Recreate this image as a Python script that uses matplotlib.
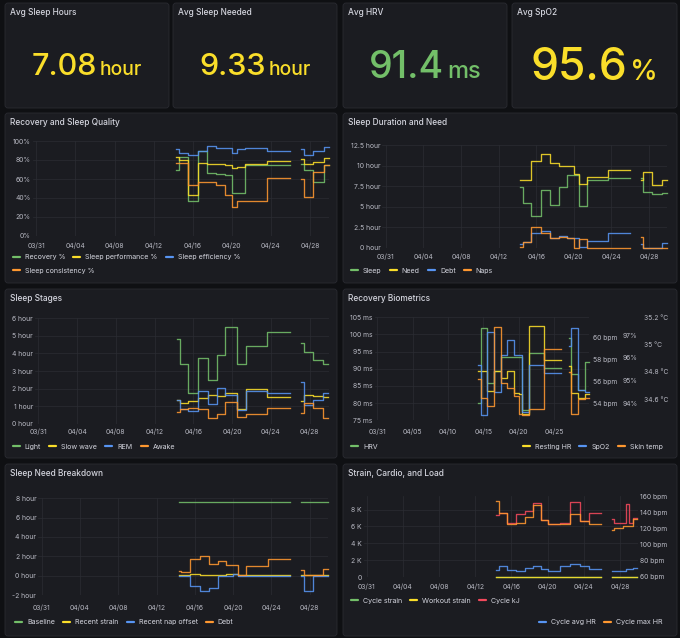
import matplotlib
matplotlib.use("Agg")
import matplotlib.pyplot as plt
import matplotlib.dates as mdates
from matplotlib.patches import FancyBboxPatch
from matplotlib.lines import Line2D
from matplotlib.legend import Legend
from matplotlib.ticker import FuncFormatter
import numpy as np
import pandas as pd

nan = np.nan

# ---- data ---------------------------------------------------------------
# one row per record; a NaN row closes a run (gap in the data)
times = pd.to_datetime([
    "2025-04-14 07:12", "2025-04-14 14:24", "2025-04-15 12:00", "2025-04-16 12:00",
    "2025-04-17 12:00", "2025-04-18 09:36", "2025-04-19 07:12", "2025-04-20 00:00",
    "2025-04-20 12:00", "2025-04-21 09:36", "2025-04-22 12:00", "2025-04-23 14:24",
    "2025-04-24 14:24", "2025-04-25 22:48", "2025-04-27 02:24", "2025-04-27 09:36",
    "2025-04-28 07:12", "2025-04-28 16:48", "2025-04-29 00:00", "2025-04-29 09:36",
    "2025-04-29 21:36",
])

stat_titles = ["Avg Sleep Hours", "Avg Sleep Needed", "Avg HRV", "Avg SpO2"]
stat_values = [7.08, 9.33, 91.4, 95.6]
stat_units = ["hour", "hour", "ms", "%"]

# Recovery and Sleep Quality (%)
recovery = [69, 83, 37, 90, 66, 65, 64, 45, 45, 75, 75, 75, 75, nan, 76, 69, 57, 57, 57, 75, nan]
sleep_perf = [83, 80, 43, 77, 76, 76, 75, 72, 73, 76, 76, 79, 79, nan, 81, 76, 78, 78, 78, 82, nan]
sleep_eff = [92, 87, 85, 90, 95, 93, 93, 87, 92, 93, 93, 90, 90, nan, 92, 85, 89, 89, 89, 94, nan]
sleep_cons = [77, 77, 54, 57, 57, 54, 43, 30, 37, 37, 37, 61, 61, nan, 60, 41, 67, 67, 67, 75, nan]

# Sleep Duration and Need (hours)
sleep_hours = [7.4, 5.4, 3.85, 7.0, 5.2, 7.4, 8.9, 8.9, 5.1, 8.25, 8.25, 8.45, 8.45, nan, 8.45, 6.8, 6.5, 6.5, 6.5, 6.7, nan]
need_hours = [8.2, 8.2, 10.6, 11.4, 10.3, 10.0, 10.0, 9.0, 7.8, 8.6, 8.6, 9.5, 9.5, nan, 8.3, 9.2, 7.6, 7.6, 7.6, 8.3, nan]
debt_hours = [0.45, 0.7, 1.75, 2.05, 1.15, 1.45, 1.15, 1.15, 0.05, 0.8, 0.8, 1.75, 1.75, nan, 0.5, 0, 0, 0, 0, 0.6, nan]
nap_hours = [0.1, 0.7, 2.5, 1.75, 1.15, 1.35, 1.15, 0, 1.0, 0, 0, 0, 0, nan, 1.35, 0, 0, 0, 0, 0, nan]

# Sleep Stages (hours)
light = [4.8, 3.4, 1.75, 3.75, 2.5, 3.9, 5.5, 5.5, 3.4, 4.45, 4.45, 5.2, 5.2, nan, 4.6, 4.1, 3.6, 3.6, 3.6, 3.4, nan]
slow_wave = [1.35, 1.15, 1.3, 1.45, 1.65, 1.55, 1.75, 1.75, 0.85, 1.95, 1.95, 1.5, 1.5, nan, 1.3, 1.65, 1.55, 1.55, 1.55, 1.5, nan]
rem = [1.35, 0.85, 0.75, 1.85, 1.1, 2.05, 1.65, 1.65, 0.8, 1.85, 1.85, 1.75, 1.75, nan, 2.4, 1.05, 1.35, 1.35, 1.35, 1.75, nan]
awake = [0.65, 0.85, 0.9, 0.85, 0.3, 0.55, 1.25, 1.25, 0.4, 0.55, 0.55, 0.9, 0.9, nan, 0.6, 1.2, 0.9, 0.9, 0.9, 0.35, nan]

# Recovery Biometrics
hrv = [80, 101.8, 86, 89.5, 93.5, 93.5, 93.5, 93.5, 78, 94.7, 94.7, 90.1, 90.1, nan, 99, 88.5, 83.8, 83.8, 83.8, 92.1, nan]
resting_hr = [57.0, 57.0, 55.2, 57.0, 56.3, 57.0, 55.0, 54.9, 53.1, 61.05, 61.05, 58.0, 58.0, nan, 57.4, 55.0, 54.5, 54.5, 54.5, 54.9, nan]
spo2 = [95.7, 93.5, 97.15, 94.5, 96.1, 96.8, 96.1, 96.1, 93.6, 95.7, 95.7, 95.35, 95.35, nan, 96.5, 97.3, 94.6, 94.6, 94.6, 94.5, nan]
skin_temp = [34.75, 34.61, 34.55, 35.13, 34.72, 34.68, 34.62, 34.49, 34.48, 34.53, 34.53, 34.97, 34.97, nan, 34.8, 34.49, 34.6, 34.6, 34.6, 34.61, nan]

# Sleep Need Breakdown (hours)
need_baseline = [7.65, 7.65, 7.65, 7.65, 7.65, 7.65, 7.65, 7.65, 7.65, 7.65, 7.65, 7.65, 7.65, nan, 7.65, 7.65, 7.65, 7.65, 7.65, 7.65, nan]
need_strain = [0.1, 0.1, 0.2, 0.05, 0.05, 0.1, 0.15, 0.2, 0.05, 0.1, 0.1, 0.1, 0.1, nan, 0.05, 0.05, 0.1, 0.1, 0.1, 0.1, nan]
need_nap_offset = [0, 0, -1.05, -1.55, -1.3, 0, 0, 0.2, 0, 0, 0, 0, 0, nan, 0, -1.55, 0, 0, 0, 0, nan]
need_debt = [0.5, 0.4, 1.7, 2.05, 1.2, 1.55, 1.15, 1.15, 0.1, 0.95, 0.95, 1.7, 1.7, nan, 0.6, 0.1, 0.1, 0.1, 0.1, 0.7, nan]

# Strain, Cardio, and Load
cycle_strain = [12.1, 12.1, 9.8, 11.5, 13.2, 14.6, 10.3, 8.9, 8.9, 9.7, 15.2, 11.0, 12.4, nan, 9.5, 8.7, 8.7, 14.1, 9.2, 10.8, nan]
workout_strain = [0, 0, 0, 0, 0, 0, 0, 0, 0, 0, 0, 0, 0, nan, 0, 0, 0, 0, 0, 0, nan]
cycle_kj = [7300, 7550, 6400, 7450, 7850, 8800, 6750, 6250, 6250, 6450, 8900, 6600, 7600, nan, 6850, 6350, 6350, 8700, 6450, 7050, nan]
cycle_avg_hr = [69, 73, 69, 67, 71, 73, 70, 67, 67, 73, 75.5, 73, 70, nan, 68, 68, 67, 69.5, 69.5, 71.5, nan]
cycle_max_hr = [154, 139, 126, 127, 134, 149, 130, 126, 126, 126, 138, 129, 125, nan, 118.5, 120, 122.5, 122.5, 122.5, 132, nan]

# ---- style --------------------------------------------------------------
W, H = 680, 638
BG = "#0f1013"
PANEL = "#1b1c21"
BORDER = "#2a2b31"
TEXT = "#d4d5de"
TICK = "#b8b9c3"
GRID = "#2b2d33"
GREEN, YELLOW, BLUE, ORANGE, RED = "#73BF69", "#FADE2A", "#5794F2", "#FF9830", "#F2495C"

plt.rcParams["font.family"] = ["Inter", "DejaVu Sans"]

t_start = pd.Timestamp("2025-03-31")
x_lo = t_start - pd.Timedelta(hours=8.4)
x_hi = t_start + pd.Timedelta(days=29.95)

fig = plt.figure(figsize=(W / 100, H / 100), dpi=100, facecolor=BG)
bg = fig.add_axes([0, 0, 1, 1], zorder=-1)
bg.set_xlim(0, W)
bg.set_ylim(H, 0)
bg.axis("off")


def panel(x0, y0, x1, y1, title):
    bg.add_patch(FancyBboxPatch((x0, y0), x1 - x0, y1 - y0,
                                boxstyle="round,pad=0,rounding_size=3",
                                fc=PANEL, ec=BORDER, lw=0.6))
    bg.text(x0 + 5, y0 + 9.6, title, color=TEXT, fontsize=6, fontweight="medium",
            ha="left", va="center")


def px_axes(left, top, right, bottom):
    return fig.add_axes([left / W, 1 - bottom / H, (right - left) / W, (bottom - top) / H])


def style(ax, ylim, yticks, yfmt, step=4, xpad=4.0):
    ax.set_facecolor("none")
    for s in ax.spines.values():
        s.set_visible(False)
    ax.set_xlim(mdates.date2num(x_lo), mdates.date2num(x_hi))
    ax.set_xticks([mdates.date2num(t_start + pd.Timedelta(days=k)) for k in range(0, 29, step)])
    ax.xaxis.set_major_formatter(mdates.DateFormatter("%m/%d"))
    ax.set_ylim(*ylim)
    ax.set_yticks(yticks)
    ax.yaxis.set_major_formatter(FuncFormatter(yfmt))
    ax.tick_params(length=0, labelsize=4.9, labelcolor=TICK, pad=1.5)
    ax.tick_params(axis="x", pad=xpad)
    ax.grid(True, color=GRID, lw=0.5)
    ax.set_axisbelow(True)


def right_axis(ax, ylim, yticks, yfmt, pad):
    tw = ax.twinx()
    for s in tw.spines.values():
        s.set_visible(False)
    tw.set_ylim(*ylim)
    tw.set_yticks(yticks)
    tw.yaxis.set_major_formatter(FuncFormatter(yfmt))
    tw.tick_params(length=0, labelsize=4.9, labelcolor=TICK, pad=pad)
    return tw


def lines(ax, series):
    for vals, col in series:
        ax.plot(times, vals, drawstyle="steps-post", color=col, lw=0.95, alpha=0.88,
                clip_on=False)


def legend_row(items, x, y, align="left"):
    handles = [Line2D([], [], color=c, lw=1.6, solid_capstyle="round") for _, c in items]
    lg = Legend(bg, handles, [n for n, _ in items],
                loc="center left" if align == "left" else "center right",
                bbox_to_anchor=(x, y), bbox_transform=bg.transData,
                ncol=len(items), frameon=False, fontsize=5.1, labelcolor=TEXT,
                handlelength=1.0, handletextpad=0.7, columnspacing=1.15,
                borderpad=0, borderaxespad=0)
    bg.add_artist(lg)


# ---- stat row -------------------------------------------------------------
stat_x = [(5, 169), (173, 337), (343, 507), (512, 677)]
stat_colors = [YELLOW, YELLOW, GREEN, YELLOW]
stat_sizes = [22, 22, 27, 32]
renderer = fig.canvas.get_renderer()
for (x0, x1), ttl, val, unit, col, fs in zip(stat_x, stat_titles, stat_values,
                                              stat_units, stat_colors, stat_sizes):
    bg.add_patch(FancyBboxPatch((x0, 3), x1 - x0, 105, boxstyle="round,pad=0,rounding_size=3",
                                fc=PANEL, ec=BORDER, lw=0.6))
    bg.text(x0 + 5, 12.7, ttl, color=TEXT, fontsize=6, fontweight="medium", ha="left", va="center")
    tv = bg.text(0, 0, f"{val:g}", fontsize=fs, color=col, fontweight="medium", va="baseline")
    tu = bg.text(0, 0, unit, fontsize=fs * 0.63, color=col, fontweight="medium", va="baseline")
    wv = tv.get_window_extent(renderer).width
    wu = tu.get_window_extent(renderer).width
    gap = 3
    xs = (x0 + x1) / 2 - (wv + gap + wu) / 2
    base = 64 + 0.364 * fs * 100 / 72
    tv.set_position((xs, base))
    tu.set_position((xs + wv + gap, base))

# ---- Recovery and Sleep Quality ------------------------------------------
panel(5, 113, 337, 283, "Recovery and Sleep Quality")
ax1 = px_axes(33, 141, 329, 236)
lines(ax1, [(recovery, GREEN), (sleep_perf, YELLOW), (sleep_eff, BLUE), (sleep_cons, ORANGE)])
style(ax1, (0, 100), range(0, 101, 20), lambda v, p: f"{v:g}%", xpad=4.7)
legend_row([("Recovery %", GREEN), ("Sleep performance %", YELLOW), ("Sleep efficiency %", BLUE)], 12.7, 257)
legend_row([("Sleep consistency %", ORANGE)], 12.7, 270.7)

# ---- Sleep Duration and Need ---------------------------------------------
panel(343, 113, 677, 283, "Sleep Duration and Need")
ax2 = px_axes(382.4, 145, 667.4, 247.7)
lines(ax2, [(sleep_hours, GREEN), (need_hours, YELLOW), (debt_hours, BLUE), (nap_hours, ORANGE)])
style(ax2, (0, 12.5), np.arange(0, 12.6, 2.5), lambda v, p: f"{v:g} hour", xpad=4.0)
legend_row([("Sleep", GREEN), ("Need", YELLOW), ("Debt", BLUE), ("Naps", ORANGE)], 351, 270.7)

# ---- Sleep Stages ---------------------------------------------------------
panel(5, 289, 337, 458, "Sleep Stages")
ax3 = px_axes(34.9, 318.3, 328.5, 423.7)
lines(ax3, [(light, GREEN), (slow_wave, YELLOW), (rem, BLUE), (awake, ORANGE)])
style(ax3, (0, 6), range(0, 7), lambda v, p: f"{v:g} hour", xpad=3.7)
legend_row([("Light", GREEN), ("Slow wave", YELLOW), ("REM", BLUE), ("Awake", ORANGE)], 12.7, 446.7)

# ---- Recovery Biometrics ---------------------------------------------------
panel(343, 289, 677, 458, "Recovery Biometrics")
ax4 = px_axes(374.8, 317.3, 589.2, 420.3)
lines(ax4, [(hrv, GREEN)])
style(ax4, (75, 105), range(75, 106, 5), lambda v, p: f"{v:g} ms", step=5, xpad=6.1)
hr_ax = right_axis(ax4, (52.5, 61.84), [54, 56, 58, 60], lambda v, p: f"{v:g} bpm", 2.5)
lines(hr_ax, [(resting_hr, YELLOW)])
spo2_ax = right_axis(ax4, (93.25, 97.78), [94, 95, 96, 97], lambda v, p: f"{v:g}%", 24.1)
lines(spo2_ax, [(spo2, BLUE)])
temp_ax = right_axis(ax4, (34.444, 35.198), [34.6, 34.8, 35.0, 35.2], lambda v, p: f"{v:g} °C", 39.5)
lines(temp_ax, [(skin_temp, ORANGE)])
legend_row([("HRV", GREEN)], 351, 446.7)
legend_row([("Resting HR", YELLOW), ("SpO2", BLUE), ("Skin temp", ORANGE)], 662.7, 446.7, align="right")

# ---- Sleep Need Breakdown --------------------------------------------------
panel(5, 464, 337, 636, "Sleep Need Breakdown")
ax5 = px_axes(38.3, 498.3, 328.3, 595)
lines(ax5, [(need_baseline, GREEN), (need_strain, YELLOW), (need_nap_offset, BLUE), (need_debt, ORANGE)])
style(ax5, (-2, 8), range(-2, 9, 2), lambda v, p: f"{v:g} hour", xpad=7.0)
legend_row([("Baseline", GREEN), ("Recent strain", YELLOW), ("Recent nap offset", BLUE), ("Debt", ORANGE)], 15, 622.3)

# ---- Strain, Cardio, and Load ----------------------------------------------
panel(343, 464, 677, 636, "Strain, Cardio, and Load")
ax6 = px_axes(363.5, 496, 637.5, 577)
lines(ax6, [(cycle_strain, GREEN), (workout_strain, YELLOW), (cycle_kj, RED)])
style(ax6, (0, 9600), range(0, 8001, 2000), lambda v, p: f"{v / 1000:g} K" if v else "0", xpad=4.5)
bpm_ax = right_axis(ax6, (60, 160), range(60, 161, 20), lambda v, p: f"{v:g} bpm", 1.8)
lines(bpm_ax, [(cycle_avg_hr, BLUE), (cycle_max_hr, ORANGE)])
legend_row([("Cycle strain", GREEN), ("Workout strain", YELLOW), ("Cycle kJ", RED)], 351, 600.7)
legend_row([("Cycle avg HR", BLUE), ("Cycle max HR", ORANGE)], 662.7, 622.3, align="right")

fig.savefig("out.png", dpi=100, facecolor=BG)
